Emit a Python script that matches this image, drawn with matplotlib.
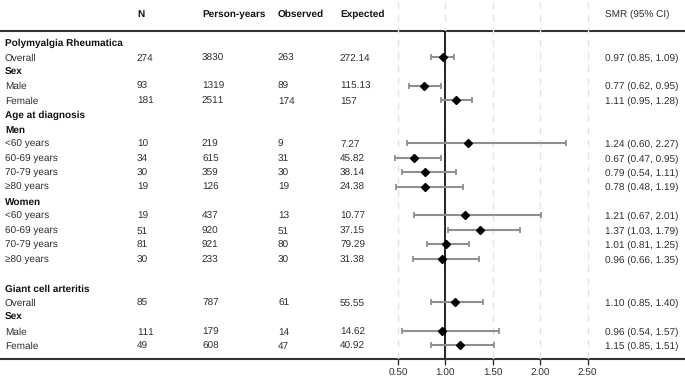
import numpy as np
import matplotlib
matplotlib.use("Agg")
import matplotlib.pyplot as plt

plt.rcParams['font.family'] = ['Liberation Sans', 'DejaVu Sans']
plt.rcParams['text.hinting'] = 'no_hinting'
plt.rcParams['text.hinting_factor'] = 1

# table rows, top to bottom
labels = ["Polymyalgia Rheumatica", "Overall", "Sex", "Male", "Female", "Age at diagnosis",
          "Men", "<60 years", "60-69 years", "70-79 years", "\u226580 years",
          "Women", "<60 years", "60-69 years", "70-79 years", "\u226580 years",
          "", "Giant cell arteritis", "Overall", "Sex", "Male", "Female"]
is_header = [True, False, True, False, False, True,
             True, False, False, False, False,
             True, False, False, False, False,
             False, True, False, True, False, False]
n_vals = ["", "274", "", "93", "181", "", "", "10", "34", "30", "19",
          "", "19", "51", "81", "30", "", "", "85", "", "111", "49"]
person_years = ["", "3830", "", "1319", "2511", "", "", "219", "615", "359", "126",
                "", "437", "920", "921", "233", "", "", "787", "", "179", "608"]
observed = ["", "263", "", "89", "174", "", "", "9", "31", "30", "19",
            "", "13", "51", "80", "30", "", "", "61", "", "14", "47"]
expected = ["", "272.14", "", "115.13", "157", "", "", "7.27", "45.82", "38.14", "24.38",
            "", "10.77", "37.15", "79.29", "31.38", "", "", "55.55", "", "14.62", "40.92"]
smr = [None, 0.97, None, 0.77, 1.11, None, None, 1.24, 0.67, 0.79, 0.78,
       None, 1.21, 1.37, 1.01, 0.96, None, None, 1.10, None, 0.96, 1.15]
ci_low = [None, 0.85, None, 0.62, 0.95, None, None, 0.60, 0.47, 0.54, 0.48,
          None, 0.67, 1.03, 0.81, 0.66, None, None, 0.85, None, 0.54, 0.85]
ci_high = [None, 1.09, None, 0.95, 1.28, None, None, 2.27, 0.95, 1.11, 1.19,
           None, 2.01, 1.79, 1.25, 1.35, None, None, 1.40, None, 1.57, 1.51]
ticks = [0.5, 1.0, 1.5, 2.0, 2.5]

W, H = 685, 381
fig = plt.figure(figsize=(W / 100, H / 100), dpi=100)

row_top_px = 42.3
row_step = 14.43
def px2row(p):
    return (p - row_top_px) / row_step

fs = 7.5
fs_bold = 7
txt_color = "#2e2e2e"
base = 3.8 / row_step  # baseline sits a few pixels below the row centre

# table axes covering whole figure, x in pixels, y in row index
tab = fig.add_axes([0, 0, 1, 1])
tab.set_xlim(0, W)
tab.set_ylim(px2row(H), px2row(0))
tab.axis("off")

# forest axes
xlim = (0.2, 2.6)
px_per_unit = 94.85
left_px = 445.4 - (1.0 - xlim[0]) * px_per_unit
width_px = (xlim[1] - xlim[0]) * px_per_unit
bottom_px = 359
ax = fig.add_axes([left_px / W, (H - bottom_px) / H, width_px / W, bottom_px / H])
ax.set_xlim(*xlim)
ax.set_ylim(px2row(bottom_px), px2row(0))
ax.patch.set_alpha(0)
for s in ax.spines.values():
    s.set_visible(False)
ax.set_yticks([])
ax.set_xticks(ticks)
ax.set_xticklabels([f"{t:.2f}" for t in ticks], fontsize=fs, color=txt_color)
ax.tick_params(axis="x", length=4.3, width=1.0, color="#333333", pad=2.5)
for t in ticks:
    ax.axvline(t, color="#e3e3e3", lw=1.0, ls=(0, (5, 4)), zorder=0)
ax.vlines(1.0, px2row(30.7), px2row(bottom_px), color="black", lw=1.2, zorder=2)

rows = np.arange(len(labels))
for i in rows:
    if smr[i] is None:
        continue
    ax.errorbar(smr[i], i, xerr=[[smr[i] - ci_low[i]], [ci_high[i] - smr[i]]],
                fmt="none", ecolor="#8f8f8f", elinewidth=1.5, capsize=2.3, capthick=1.3, zorder=3)
    ax.plot(smr[i], i, marker="D", ms=4, color="black", zorder=4)

# column headers
hdr_row = px2row(13.3) + base
col_x = {"N": 137, "Person-years": 202, "Observed": 278, "Expected": 340}
smr_x = 605
for name, x in col_x.items():
    tab.text(x, hdr_row, name, fontsize=fs_bold, fontweight="bold", color="#111111", va="baseline")
tab.text(smr_x, hdr_row, "SMR (95% CI)", fontsize=fs, color=txt_color, va="baseline")

# horizontal rules
tab.axhline(px2row(30.7), color="#333333", lw=1.5)
tab.axhline(px2row(359), color="#333333", lw=1.5)

# table body
for i in rows:
    y = i + base
    if is_header[i]:
        tab.text(5, y, labels[i], fontsize=fs_bold, va="baseline", color="#111111", fontweight="bold")
    else:
        tab.text(5, y, labels[i], fontsize=fs, va="baseline", color=txt_color)
    tab.text(col_x["N"], y, n_vals[i], fontsize=fs, va="baseline", color=txt_color)
    tab.text(col_x["Person-years"], y, person_years[i], fontsize=fs, va="baseline", color=txt_color)
    tab.text(col_x["Observed"], y, observed[i], fontsize=fs, va="baseline", color=txt_color)
    tab.text(col_x["Expected"], y, expected[i], fontsize=fs, va="baseline", color=txt_color)
    if smr[i] is not None:
        tab.text(smr_x, y, f"{smr[i]:.2f} ({ci_low[i]:.2f}, {ci_high[i]:.2f})",
                 fontsize=fs, va="baseline", color=txt_color)

fig.savefig("out.png", dpi=100)
